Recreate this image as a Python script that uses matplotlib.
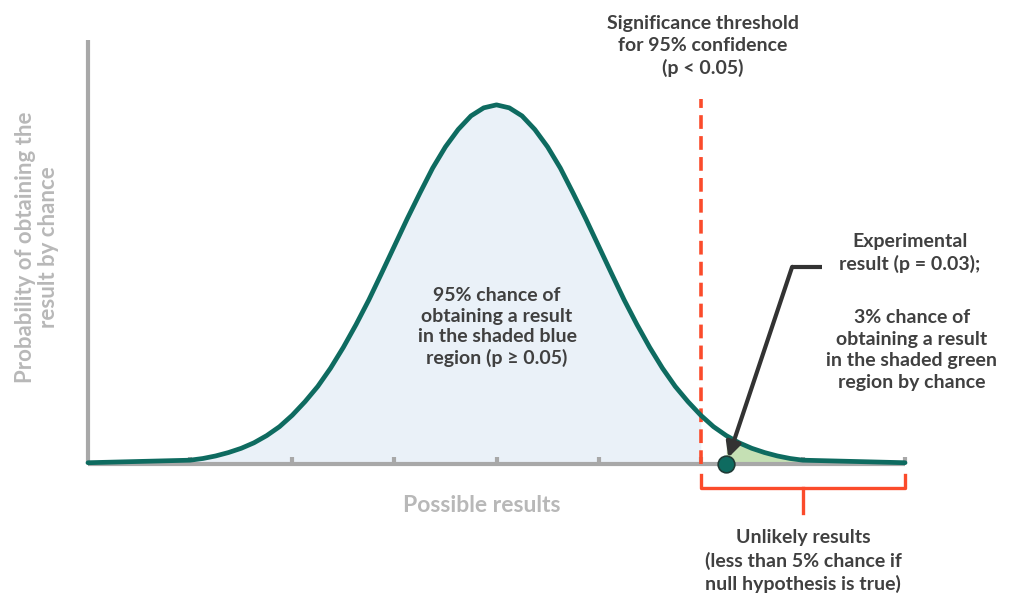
import numpy as np
import matplotlib
matplotlib.use('Agg')
import matplotlib.pyplot as plt

# bell curve (x in tick units, y as fraction of axis height)
curve_x = [0.0, 1.0, 1.125, 1.25, 1.375, 1.5, 1.625, 1.75, 1.875, 2.0, 2.125, 2.25, 2.375,
           2.5, 2.625, 2.75, 2.875, 3.0, 3.125, 3.25, 3.375, 3.5, 3.625, 3.75, 3.875,
           4.0, 4.125, 4.25, 4.375, 4.5, 4.625, 4.75, 4.875, 5.0, 5.125, 5.25, 5.375,
           5.5, 5.625, 5.75, 5.875, 6.0, 6.125, 6.25, 6.375, 6.5, 6.625, 6.75, 6.875,
           7.0, 8.0]
curve_y = [0.003, 0.009, 0.013, 0.019, 0.027, 0.037, 0.050, 0.067, 0.088, 0.115, 0.147, 0.183, 0.226,
           0.275, 0.329, 0.387, 0.450, 0.514, 0.578, 0.639, 0.698, 0.748, 0.789, 0.821, 0.840,
           0.847, 0.840, 0.821, 0.789, 0.748, 0.698, 0.639, 0.578, 0.514, 0.450, 0.387, 0.329,
           0.275, 0.226, 0.183, 0.147, 0.115, 0.088, 0.067, 0.050, 0.037, 0.027, 0.019, 0.013,
           0.009, 0.003]
tick_x = [1, 2, 3, 4, 5, 6, 7, 8]
threshold_x = 6.0
result_x = 6.25
tail_end_x = 7.0

teal = '#0e6b60'
axgrey = '#a8a8a8'
txt = '#404040'
lightgrey = '#b8b8b8'
red = '#fb4b2b'

plt.rcParams['font.family'] = ['Lato', 'DejaVu Sans']
plt.rcParams['font.weight'] = 'bold'

fig = plt.figure(figsize=(10.24, 6.13), dpi=100)
W, H = 1024., 613.
ax = fig.add_axes([88/W, 1-464/H, 817/W, 424/H])
ax.set_xlim(0, 8)
ax.set_ylim(0, 1)
for s in ['top', 'right']:
    ax.spines[s].set_visible(False)
for s in ['left', 'bottom']:
    ax.spines[s].set_color(axgrey)
    ax.spines[s].set_linewidth(3)
    ax.spines[s].set_capstyle('butt')
ax.set_xticks(tick_x)
ax.set_xticklabels([])
ax.set_yticks([])
ax.tick_params(axis='x', direction='in', length=5, width=3, color=axgrey)
ax.patch.set_alpha(0)

cx = np.array(curve_x)
cy = np.array(curve_y)
ax.fill_between(cx, 0, cy, where=(cx >= 1.0) & (cx <= threshold_x), color='#eaf1f8', lw=0, zorder=1)
ax.fill_between(cx, 0, cy, where=(cx >= result_x) & (cx <= tail_end_x), color='#c5e0b4', lw=0, zorder=1)
ax.plot(cx, cy, color=teal, lw=3.4, solid_joinstyle='round', solid_capstyle='round', zorder=4, clip_on=False)

# significance threshold
ax.plot([threshold_x, threshold_x], [0, 0.862], color=red, lw=2.6,
        linestyle=(0, (3.8, 2.0)), zorder=3, clip_on=False)

# experimental result marker + arrow
ax.plot([7.19, 6.895], [0.465, 0.465], color='#333333', lw=3, solid_capstyle='butt', zorder=5, clip_on=False)
ax.annotate('', xy=(6.27, 0.015), xytext=(6.895, 0.465),
            arrowprops=dict(arrowstyle='-|>', color='#333333', lw=3, mutation_scale=22,
                            shrinkA=0, shrinkB=0), zorder=5, annotation_clip=False)
ax.plot([result_x], [0], 'o', ms=12, mfc=teal, mec='#1f3b36', mew=1.2, zorder=6, clip_on=False)

# brace under the unlikely region
bx = [6.0, 6.0, 8.0, 8.0]
by = [-0.026, -0.057, -0.057, -0.026]
ax.plot(bx, by, color=red, lw=2.4, solid_joinstyle='round', clip_on=False)
ax.plot([7.0, 7.0], [-0.057, -0.115], color=red, lw=2.4, clip_on=False)

def ftext(px, py, s, **kw):
    fig.text(px/W, 1-py/H, s, ha='center', va='center', **kw)

fs = 14
ftext(703, 46, 'Significance threshold\nfor 95% confidence\n(p < 0.05)',
      fontsize=fs, color=txt, linespacing=1.33)
ftext(497, 327, '95% chance of\nobtaining a result\nin the shaded blue\nregion (p \u2265 0.05)',
      fontsize=fs, color=txt, linespacing=1.25)
ftext(910, 253, 'Experimental\nresult (p = 0.03);', fontsize=fs, color=txt, linespacing=1.33)
ftext(912, 350, '3% chance of\nobtaining a result\nin the shaded green\nregion by chance',
      fontsize=fs, color=txt, linespacing=1.33)
ftext(803, 561, 'Unlikely results\n(less than 5% chance if\nnull hypothesis is true)',
      fontsize=fs, color=txt, linespacing=1.33)
ftext(482, 505, 'Possible results', fontsize=16.5, color=lightgrey)
ftext(37, 247, 'Probability of obtaining the\nresult by chance', fontsize=16, color=lightgrey,
      rotation=90, linespacing=1.15)

fig.savefig('out.png', dpi=100)
